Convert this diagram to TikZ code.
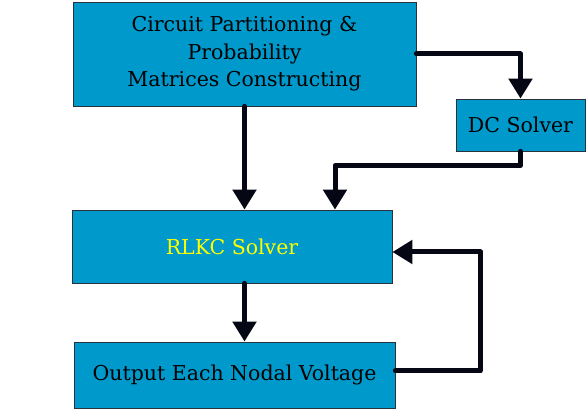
\documentclass[tikz,border=0pt]{standalone}
\usepackage{fontspec}
\setmainfont{DejaVu Serif}
\usetikzlibrary{arrows.meta}
\definecolor{boxblue}{RGB}{0,153,204}
\definecolor{boxedge}{RGB}{40,50,60}
\definecolor{txtyellow}{RGB}{255,255,0}
\definecolor{linecol}{RGB}{5,8,20}
\begin{document}
\begin{tikzpicture}[x=1pt,y=-1pt,
  blk/.style={draw=boxedge,line width=0.8pt,fill=boxblue,rectangle,inner sep=0pt,
    font=\fontsize{20.5}{27.5}\selectfont,align=center},
  conn/.style={draw=linecol,line width=5pt,line cap=round,line join=round},
  arr/.style={conn,-{Triangle[width=23pt,length=20pt]}}]
\useasboundingbox[fill=white] (0,0) rectangle (587,411);
\node[blk,minimum width=343pt,minimum height=104pt] (part) at (244.5,54)
  {Circuit Partitioning \&\\Probability\\Matrices Constructing};
\node[blk,minimum width=129pt,minimum height=52pt] (dc) at (520.5,125) {DC Solver};
\node[blk,minimum width=320pt,minimum height=73pt,text=txtyellow] (rlkc) at (232,246.5) {RLKC Solver};
\node[blk,minimum width=321pt,minimum height=66pt] (out) at (234.5,375) {Output Each Nodal Voltage};
\draw[arr] (part.east) -| (dc.north);
\draw[arr] (part.south) -- (part.south |- rlkc.north);
\draw[arr] (dc.south) -- ++(0,14) -| ([xshift=103pt]rlkc.north);
\draw[arr] (rlkc.south -| part.south) -- (out.north -| part.south);
\draw[arr] ([yshift=4pt]out.east) -- ++(85,0) |- ([yshift=-5.5pt]rlkc.east);
\end{tikzpicture}
\end{document}
